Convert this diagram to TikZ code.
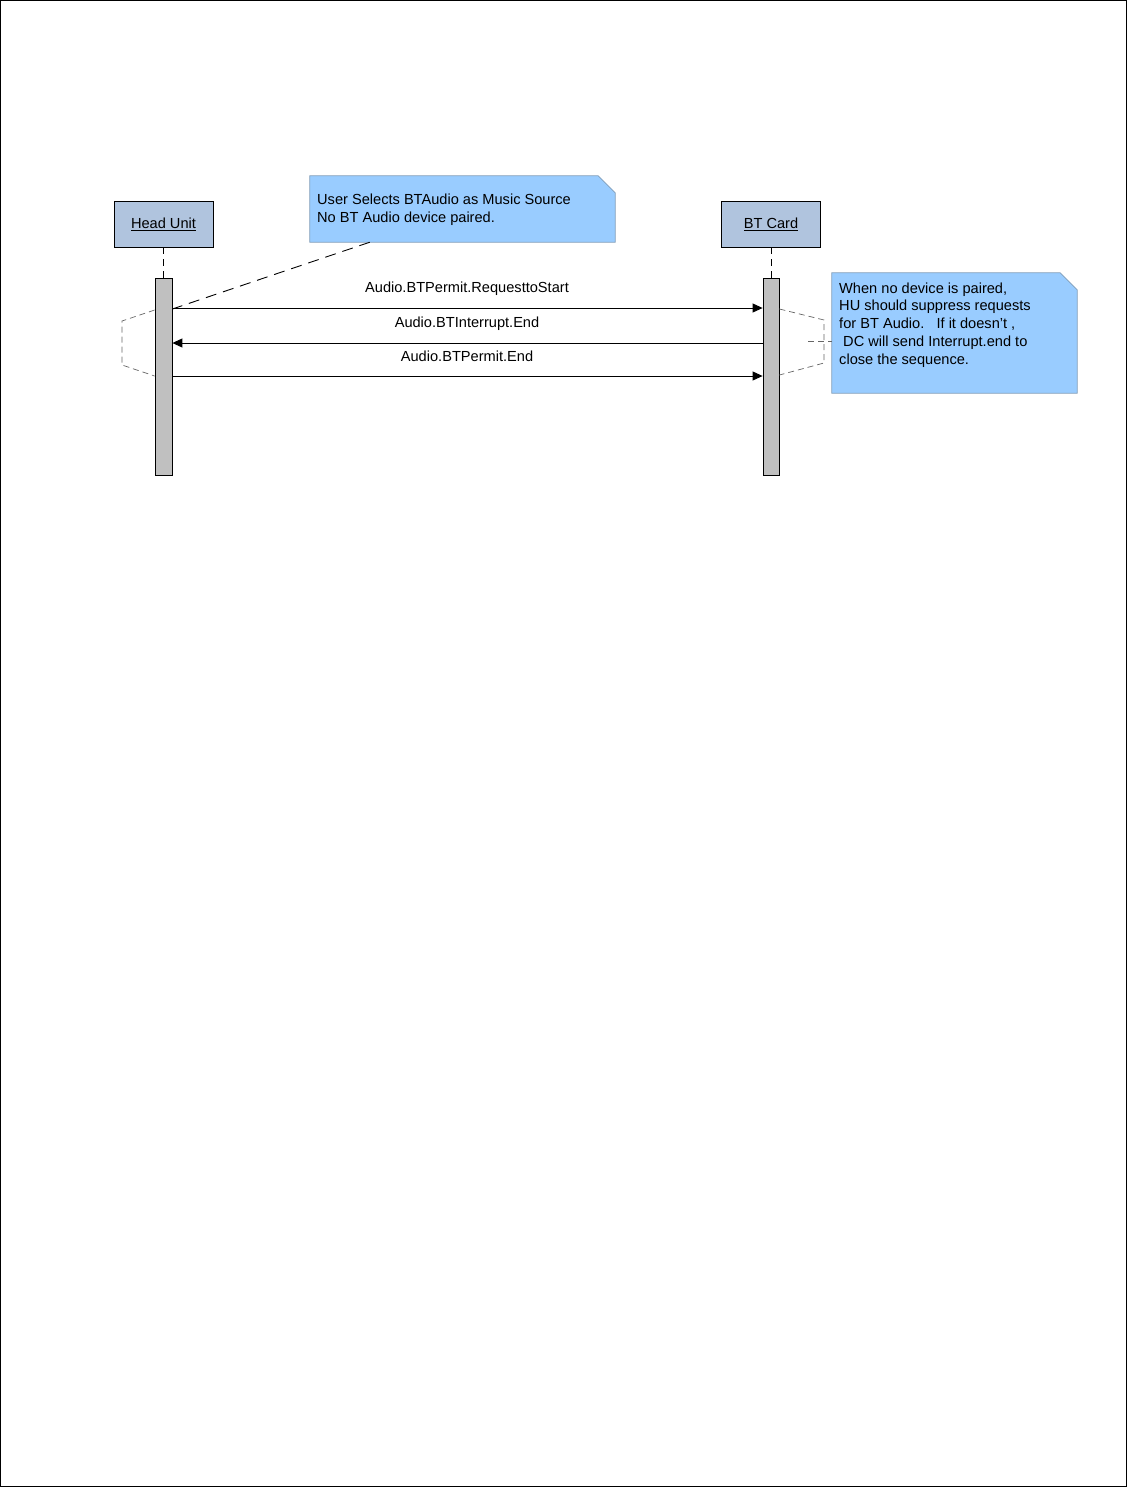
\documentclass[tikz,border=0pt]{standalone}
\usepackage{fontspec}
\setmainfont{Liberation Sans}
\usetikzlibrary{arrows.meta,calc}
\definecolor{notefill}{HTML}{99CCFF}
\definecolor{noteline}{HTML}{7F9DB9}
\definecolor{objfill}{HTML}{B0C4DE}
\definecolor{barfill}{HTML}{C0C0C0}
\begin{document}
\begin{tikzpicture}[x=1pt,y=-1pt,
  font=\fontsize{14.6}{17.8}\selectfont,
  obj/.style={draw=black, fill=objfill, minimum width=99pt, minimum height=46pt, inner sep=0pt, line width=0.8pt},
  bar/.style={draw=black, fill=barfill, minimum width=17pt, minimum height=197pt, inner sep=0pt, line width=0.8pt},
  notedraw/.style={draw=noteline, fill=notefill, line width=0.8pt},
  msg/.style={-{Triangle[length=10pt,width=9pt]}, line width=0.9pt},
  life/.style={dash pattern=on 7pt off 5pt, line width=0.8pt},
  notelink/.style={dash pattern=on 11pt off 7pt, line width=0.9pt},
  frag/.style={draw=black!60, dash pattern=on 6pt off 4pt, line width=0.7pt},
  lbl/.style={inner sep=0pt, anchor=center},
  notetext/.style={inner sep=0pt, anchor=west, align=left}]
\useasboundingbox (0,0) rectangle (1128,1488);
\draw[line width=0.8pt] (0.5,0.5) rectangle (1126.5,1486.5);

% lifeline heads
\node[obj] (hu) at (163.5,224) {\underline{Head Unit}};
\node[obj] (bt) at (771,224) {\underline{BT Card}};

% activation bars
\node[bar] (hubar) at (163.5,376.5) {};
\node[bar, minimum width=16pt] (btbar) at (771,376.5) {};
\draw[life] (hu.south) -- (hubar.north);
\draw[life] (bt.south) -- (btbar.north);

% note 1
\node[minimum width=305pt, minimum height=66pt, inner sep=0pt] (n1) at (462.5,209) {};
\path[notedraw] (n1.north west) -- ($(n1.north east)+(-17,0)$) -- ($(n1.north east)+(0,17)$) -- (n1.south east) -- (n1.south west) -- cycle;
\node[notetext] (n1t) at (317,210) {User Selects BTAudio as Music Source\\No BT Audio device paired.};
\coordinate (n1tail) at ($(n1.south west)+(60,0)$);
\coordinate (hutip) at (hubar.east |- 0,309);
\draw[notelink] (n1tail) -- (hutip);

% messages
\coordinate (m1s) at (hubar.east |- 0,308);
\coordinate (m1e) at (btbar.west |- 0,308);
\coordinate (m2s) at (btbar.west |- 0,343);
\coordinate (m2e) at (hubar.east |- 0,343);
\coordinate (m3s) at (hubar.east |- 0,376);
\coordinate (m3e) at (btbar.west |- 0,376);
\draw[msg] (m1s) -- (m1e);
\draw[msg] (m2s) -- (m2e);
\draw[msg] (m3s) -- (m3e);
\node[lbl] (l1) at (467,288.5) {Audio.BTPermit.RequesttoStart};
\node[lbl] (l2) at (467,323.5) {Audio.BTInterrupt.End};
\node[lbl] (l3) at (467,356.5) {Audio.BTPermit.End};

% fragments (dashed brackets)
\draw[frag] (hubar.west |- 0,310) -- (122,321) -- (122,365) -- (hubar.west |- 0,376);
\draw[frag] (btbar.east |- 0,309) -- (824,320) -- (824,363) -- (btbar.east |- 0,375);

% note 2
\node[minimum width=245pt, minimum height=120pt, inner sep=0pt] (n2) at (954.5,333) {};
\path[notedraw] (n2.north west) -- ($(n2.north east)+(-17,0)$) -- ($(n2.north east)+(0,17)$) -- (n2.south east) -- (n2.south west) -- cycle;
\node[notetext] (n2t) at (839,325) {When no device is paired,\\HU should suppress requests\\for BT Audio.\ \ \ If it doesn't ,\\\hspace*{4pt}DC will send Interrupt.end to\\close the sequence.};
\coordinate (fraglink) at (808,341);
\draw[frag] (fraglink) -- (n2.west |- 0,341);
\end{tikzpicture}
\end{document}
